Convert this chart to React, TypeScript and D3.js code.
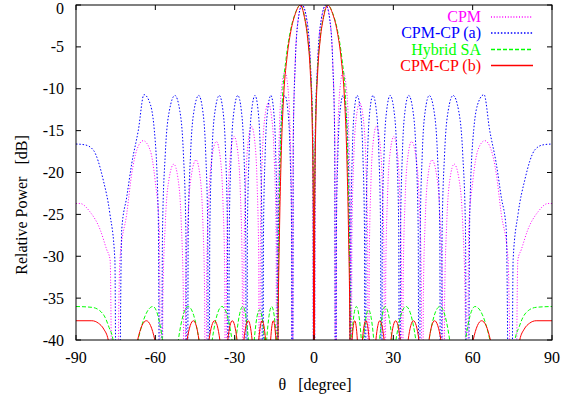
import React from "react";
import * as d3 from "d3";

const W = 561;
const H = 398;
const PL = 76, PR = 552, PT = 5, PB = 340;

const thetaTicks = [-90, -60, -30, 0, 30, 60, 90];
const dbTicks = [0, -5, -10, -15, -20, -25, -30, -35, -40];

const seriesNames = ["CPM", "CPM-CP (a)", "Hybrid SA", "CPM-CP (b)"];
const seriesColors = ["#ff00ff", "#0000ff", "#00ff00", "#ff0000"];
const seriesDash = ["1,1.8", "1.5,1.8", "4,2", ""];

type P = [number, number];

// CPM (magenta dotted)
const cpmNeg: P[] = [
  [-90, -23.7], [-88.5, -23.7], [-84.7, -24.7], [-80.9, -26.8], [-78.4, -29.2], [-77.1, -30.4], [-75.6, -80],
  [-73.4, -30.4], [-70.8, -24.9], [-68.9, -20.1], [-67.0, -17.3], [-64.6, -16.2], [-62.0, -17.3], [-60.1, -20.9], [-58.5, -26.8], [-57.6, -80],
  [-57.14, -35], [-56.22, -26], [-54.84, -20.8], [-53.0, -19.0], [-51.4, -20.8], [-50.2, -26], [-49.4, -35], [-49.0, -80],
  [-48.56, -34.5], [-47.68, -25.5], [-46.36, -20.3], [-44.6, -18.5], [-43.16, -20.3], [-42.08, -25.5], [-41.36, -34.5], [-41.0, -80],
  [-40.59, -32.3], [-39.77, -23.3], [-38.54, -18.1], [-36.9, -16.3], [-35.5, -18.1], [-34.45, -23.3], [-33.75, -32.3], [-33.4, -80],
  [-33.08, -31.7], [-32.44, -22.7], [-31.48, -17.5], [-30.2, -15.7], [-28.84, -17.5], [-27.82, -22.7], [-27.14, -31.7], [-26.8, -80],
  [-26.48, -30.5], [-25.84, -21.5], [-24.88, -16.3], [-23.6, -14.5], [-22.4, -16.3], [-21.5, -21.5], [-20.9, -30.5], [-20.6, -80],
  [-20.27, -27.7], [-19.61, -18.7], [-18.62, -13.5], [-17.3, -11.7], [-15.98, -13.5], [-14.99, -18.7], [-14.33, -27.7], [-14.0, -80],
  [-13.7, -24], [-13.1, -15], [-12.2, -9.8], [-11.0, -8.0], [-9.88, -9.8], [-9.04, -15], [-8.48, -24], [-8.2, -80],
  [-7.84, -16], [-7.12, -7], [-6.04, -1.8], [-4.6, 0], [-2.76, -1.8], [-1.38, -7], [-0.46, -16],
];
const cpmPos: P[] = [
  [0, -80], [0.46, -16], [1.38, -7], [2.76, -1.8], [4.6, 0], [6.04, -1.8], [7.12, -7], [7.84, -16], [8.2, -80],
  [8.48, -24], [9.04, -15], [9.88, -9.8], [11.0, -8.0], [12.2, -9.8], [13.1, -15], [13.7, -24], [14.0, -80],
  [14.33, -27.7], [14.99, -18.7], [15.98, -13.5], [17.3, -11.7], [18.62, -13.5], [19.61, -18.7], [20.27, -27.7], [20.6, -80],
  [20.9, -30.5], [21.5, -21.5], [22.4, -16.3], [23.6, -14.5], [24.88, -16.3], [25.84, -21.5], [26.48, -30.5], [26.8, -80],
  [27.14, -31.7], [27.82, -22.7], [28.84, -17.5], [30.2, -15.7], [31.48, -17.5], [32.44, -22.7], [33.08, -31.7], [33.4, -80],
  [33.75, -32.3], [34.45, -23.3], [35.5, -18.1], [36.9, -16.3], [38.54, -18.1], [39.77, -23.3], [40.59, -32.3], [41.0, -80],
  [41.36, -34.5], [42.08, -25.5], [43.16, -20.3], [44.6, -18.5], [46.36, -20.3], [47.68, -25.5], [48.56, -34.5], [49.0, -80],
  [49.4, -35], [50.2, -26], [51.4, -20.8], [53.0, -19.0], [54.84, -20.8], [56.22, -26], [57.14, -35], [57.6, -80],
  [58.5, -26.8], [60.1, -20.9], [62.0, -17.3], [64.6, -16.2], [67.0, -17.3], [68.9, -20.1], [70.8, -24.9], [73.4, -30.4], [75.6, -80],
  [77.1, -30.4], [78.4, -29.2], [80.9, -26.8], [84.7, -24.7], [88.5, -23.7], [90, -23.7],
];

// CPM-CP (a) (blue dotted)
const cpmCpANeg: P[] = [
  [-90, -16.6], [-86.6, -16.7], [-83.5, -17.3], [-79.7, -20.9], [-77.2, -24.9], [-75.3, -30.4], [-74.4, -80],
  [-72.7, -26.8], [-70.8, -22.9], [-68.9, -18.9], [-66.4, -14.9], [-64.3, -10.7], [-62.3, -11.5], [-60.4, -14.9], [-58.9, -25], [-58.0, -80],
  [-57.28, -26.8], [-56.24, -17.8], [-54.68, -12.6], [-52.6, -10.8], [-50.76, -12.6], [-49.38, -17.8], [-48.46, -26.8], [-48.0, -80],
  [-47.56, -26.8], [-46.68, -17.8], [-45.36, -12.6], [-43.6, -10.8], [-42.08, -12.6], [-40.94, -17.8], [-40.18, -26.8], [-39.8, -80],
  [-39.4, -26.8], [-38.6, -17.8], [-37.4, -12.6], [-35.8, -10.8], [-34.44, -12.6], [-33.42, -17.8], [-32.74, -26.8], [-32.4, -80],
  [-32.04, -26.8], [-31.32, -17.8], [-30.24, -12.6], [-28.8, -10.8], [-27.48, -12.6], [-26.49, -17.8], [-25.83, -26.8], [-25.5, -80],
  [-25.18, -26.8], [-24.54, -17.8], [-23.58, -12.6], [-22.3, -10.8], [-21.14, -12.6], [-20.27, -17.8], [-19.69, -26.8], [-19.4, -80],
  [-19.09, -26.8], [-18.47, -17.8], [-17.54, -12.6], [-16.3, -10.8], [-15.26, -12.6], [-14.48, -17.8], [-13.96, -26.8], [-13.7, -80],
  [-13.43, -26.8], [-12.89, -17.8], [-12.08, -12.6], [-11.0, -10.8], [-9.88, -12.6], [-9.04, -17.8], [-8.48, -26.8], [-8.2, -80],
  [-7.83, -16], [-7.09, -7], [-5.98, -1.8], [-4.5, 0], [-2.7, -1.8], [-1.35, -7], [-0.45, -16],
];
const cpmCpAPos: P[] = [
  [0, -80], [0.45, -16], [1.35, -7], [2.7, -1.8], [4.5, 0], [5.98, -1.8], [7.09, -7], [7.83, -16], [8.2, -80],
  [8.48, -26.8], [9.04, -17.8], [9.88, -12.6], [11.0, -10.8], [12.08, -12.6], [12.89, -17.8], [13.43, -26.8], [13.7, -80],
  [13.96, -26.8], [14.48, -17.8], [15.26, -12.6], [16.3, -10.8], [17.54, -12.6], [18.47, -17.8], [19.09, -26.8], [19.4, -80],
  [19.69, -26.8], [20.27, -17.8], [21.14, -12.6], [22.3, -10.8], [23.58, -12.6], [24.54, -17.8], [25.18, -26.8], [25.5, -80],
  [25.83, -26.8], [26.49, -17.8], [27.48, -12.6], [28.8, -10.8], [30.24, -12.6], [31.32, -17.8], [32.04, -26.8], [32.4, -80],
  [32.74, -26.8], [33.42, -17.8], [34.44, -12.6], [35.8, -10.8], [37.4, -12.6], [38.6, -17.8], [39.4, -26.8], [39.8, -80],
  [40.18, -26.8], [40.94, -17.8], [42.08, -12.6], [43.6, -10.8], [45.36, -12.6], [46.68, -17.8], [47.56, -26.8], [48.0, -80],
  [48.46, -26.8], [49.38, -17.8], [50.76, -12.6], [52.6, -10.8], [54.68, -12.6], [56.24, -17.8], [57.28, -26.8], [58.0, -80],
  [58.9, -25], [60.4, -14.9], [62.3, -11.5], [64.3, -10.7], [66.4, -14.9], [68.9, -18.9], [70.8, -22.9], [72.7, -26.8], [74.4, -80],
  [75.3, -30.4], [77.2, -24.9], [79.7, -20.9], [83.5, -17.3], [86.6, -16.7], [90, -16.6],
];

// Hybrid SA (green dashed)
const hybridNeg: P[] = [
  [-90, -36], [-84, -36.1], [-81, -36.5], [-79, -37.3], [-77.5, -38.5], [-76.0, -40], [-71.5, -70],
  [-66.5, -40], [-60.9, -36], [-57.3, -40], [-54.3, -70],
  [-51.3, -40], [-47.6, -36], [-43.5, -40], [-41.0, -70],
  [-38.5, -40], [-34.8, -36], [-31.0, -40], [-30.2, -70],
  [-29.5, -40], [-26.9, -36], [-24.8, -40], [-23.6, -70],
  [-22.6, -40], [-20.6, -36.4], [-18.7, -40], [-18.3, -70],
  [-17.9, -40], [-16.0, -36], [-14.2, -40], [-13.85, -70],
  [-13.7, -40], [-13.3, -28], [-12.7, -18], [-11.9, -11], [-10.6, -6.5], [-9, -3.2], [-7.1, -1], [-5.1, 0],
  [-3.5, -1.5], [-2.3, -4], [-1.3, -8], [-0.6, -14], [-0.2, -24],
];
const hybridPos: P[] = [
  [0, -80], [0.2, -24], [0.6, -14], [1.3, -8], [2.3, -4], [3.5, -1.5], [5.1, 0], [7.1, -1], [9, -3.2],
  [10.6, -6.5], [11.9, -11], [12.7, -18], [13.3, -28], [13.7, -40], [13.85, -70],
  [14.2, -40], [16.0, -36], [17.9, -40], [18.3, -70],
  [18.7, -40], [20.6, -36.4], [22.6, -40], [23.6, -70],
  [24.8, -40], [26.9, -36], [29.5, -40], [30.2, -70],
  [31.0, -40], [34.8, -36], [38.5, -40], [41.0, -70],
  [43.5, -40], [47.6, -36], [51.3, -40], [54.3, -70],
  [57.3, -40], [60.9, -36], [66.5, -40], [71.5, -70],
  [76.0, -40], [77.5, -38.5], [79, -37.3], [81, -36.5], [84, -36.1], [90, -36],
];

// CPM-CP (b) (red solid)
const cpmCpBNeg: P[] = [
  [-90, -37.7], [-84, -37.7], [-81.5, -38.0], [-79.5, -38.7], [-77.8, -40], [-71, -70],
  [-66.7, -40], [-63.4, -37.7], [-60.2, -40], [-54, -70],
  [-48.0, -40], [-45.6, -37.7], [-43.5, -40], [-41.6, -70],
  [-39.7, -40], [-37.6, -37.7], [-35.6, -40], [-34.1, -70],
  [-32.6, -40], [-30.9, -37.7], [-29.1, -40], [-27.8, -70],
  [-26.5, -40], [-24.9, -37.7], [-23.4, -40], [-22.1, -70],
  [-20.9, -40], [-19.6, -37.7], [-18.3, -40], [-17.3, -70],
  [-16.4, -40], [-15.4, -37.7], [-14.4, -40], [-14.0, -70],
  [-13.6, -40], [-13.1, -28], [-12.4, -18], [-11.5, -11], [-10.3, -6.5], [-8.8, -3.2], [-7, -1], [-5.2, 0],
  [-3.6, -1.5], [-2.4, -4], [-1.4, -8], [-0.7, -14], [-0.25, -24],
];
const cpmCpBPos: P[] = [
  [0, -80], [0.25, -24], [0.7, -14], [1.4, -8], [2.4, -4], [3.6, -1.5], [5.2, 0], [7, -1], [8.8, -3.2],
  [10.3, -6.5], [11.5, -11], [12.4, -18], [13.1, -28], [13.6, -40], [14.0, -70],
  [14.4, -40], [15.4, -37.7], [16.4, -40], [17.3, -70],
  [18.3, -40], [19.6, -37.7], [20.9, -40], [22.1, -70],
  [23.4, -40], [24.9, -37.7], [26.5, -40], [27.8, -70],
  [29.1, -40], [30.9, -37.7], [32.6, -40], [34.1, -70],
  [35.6, -40], [37.6, -37.7], [39.7, -40], [41.6, -70],
  [43.5, -40], [45.6, -37.7], [48.0, -40], [54, -70],
  [60.2, -40], [63.4, -37.7], [66.7, -40], [71, -70],
  [77.8, -40], [79.5, -38.7], [81.5, -38.0], [84, -37.7], [90, -37.7],
];

const seriesData: P[][] = [
  [...cpmNeg, ...cpmPos],
  [...cpmCpANeg, ...cpmCpAPos],
  [...hybridNeg, ...hybridPos],
  [...cpmCpBNeg, ...cpmCpBPos],
];

const FONT = "Liberation Serif, Times New Roman, Times, DejaVu Serif, serif";

export default function App() {
  const x = d3.scaleLinear().domain([-90, 90]).range([PL, PR]);
  const y = d3.scaleLinear().domain([-40, 0]).range([PB, PT]);
  const line = d3
    .line<P>()
    .x((d) => x(d[0]))
    .y((d) => y(d[1]))
    .curve(d3.curveMonotoneX);
  const legendLine = d3.line<[number, number]>();

  const legendY = [17, 33, 49.5, 65.5];

  return (
    <svg width={W} height={H} style={{ display: "block", position: "absolute", left: 0, top: 0 }}>
      <rect x={0} y={0} width={W} height={H} fill="#fff" />
      <defs>
        <clipPath id="plotClip">
          <rect x={PL} y={PT} width={PR - PL} height={PB - PT} />
        </clipPath>
      </defs>
      <g clipPath="url(#plotClip)">
        {seriesData.map((data, i) => (
          <path
            key={i}
            d={line(data) || ""}
            fill="none"
            stroke={seriesColors[i]}
            strokeWidth={1}
            strokeDasharray={seriesDash[i] || undefined}
          />
        ))}
      </g>
      <rect x={PL} y={PT} width={PR - PL} height={PB - PT} fill="none" stroke="#000" strokeWidth={1} />
      {thetaTicks.map((t) => (
        <g key={"xt" + t}>
          <line x1={x(t)} x2={x(t)} y1={PB} y2={PB - 5} stroke="#000" />
          <line x1={x(t)} x2={x(t)} y1={PT} y2={PT + 5} stroke="#000" />
          <text x={x(t)} y={363} textAnchor="middle" style={{ fontFamily: FONT, fontSize: "16px" }} fill="#000">
            {t}
          </text>
        </g>
      ))}
      {dbTicks.map((v) => (
        <g key={"yt" + v}>
          <line x1={PL} x2={PL + 5} y1={y(v)} y2={y(v)} stroke="#000" />
          <line x1={PR} x2={PR - 5} y1={y(v)} y2={y(v)} stroke="#000" />
          <text x={64} y={Math.max(y(v) + 5.5, 13.5)} textAnchor="end" style={{ fontFamily: FONT, fontSize: "16px" }} fill="#000">
            {v}
          </text>
        </g>
      ))}
      <text x={315} y={390} textAnchor="middle" fill="#000" style={{ fontFamily: FONT, fontSize: "16px", whiteSpace: "pre" }}>
        {"θ   [degree]"}
      </text>
      <text
        transform={`translate(27,205) rotate(-90)`}
        textAnchor="middle"
        fill="#000"
        style={{ fontFamily: FONT, fontSize: "16px", whiteSpace: "pre" }}
      >
        {"Relative Power   [dB]"}
      </text>
      {seriesNames.map((n, i) => (
        <g key={"lg" + i}>
          <text x={481} y={legendY[i] + 5} textAnchor="end" style={{ fontFamily: FONT, fontSize: "16px" }} fill={seriesColors[i]}>
            {n}
          </text>
          <path
            d={legendLine([[491, legendY[i]], [533, legendY[i]]]) || ""}
            fill="none"
            stroke={seriesColors[i]}
            strokeWidth={1.4}
            strokeDasharray={seriesDash[i] || undefined}
          />
        </g>
      ))}
    </svg>
  );
}
